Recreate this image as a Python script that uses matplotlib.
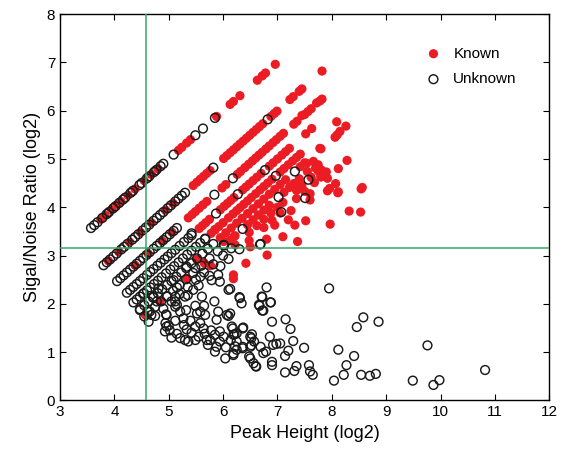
import numpy as np
import matplotlib.pyplot as plt

# thresholds (green lines)
peak_cut = 4.58
snr_cut = 3.16

# Known peaks (red) as (peak height, S/N), both log2
known_diag_a = [(3.75, 3.75), (3.83, 3.83), (3.95, 3.95), (4.06, 4.06), (4.12, 4.12), (4.25, 4.25),
                (4.38, 4.38), (4.55, 4.55), (4.68, 4.68), (4.80, 4.80), (5.18, 5.18), (5.24, 5.24),
                (5.33, 5.33), (5.40, 5.40), (5.88, 5.88), (6.13, 6.13), (6.19, 6.19), (6.31, 6.31),
                (6.63, 6.63), (6.72, 6.72), (6.78, 6.78), (6.96, 6.96)]
known_diag_b = [(3.89, 2.89), (4.08, 3.08), (4.28, 3.28), (4.48, 3.48), (4.68, 3.68), (4.94, 3.94),
                (5.08, 4.08), (5.45, 4.45), (5.52, 4.52), (5.58, 4.58), (5.64, 4.64), (5.70, 4.70),
                (5.76, 4.76), (6.01, 5.01), (6.07, 5.07), (6.13, 5.13), (6.19, 5.19), (6.25, 5.25),
                (6.31, 5.31), (6.37, 5.37), (6.43, 5.43), (6.49, 5.49), (6.55, 5.55), (6.61, 5.61),
                (6.67, 5.67), (6.73, 5.73), (6.88, 5.88), (6.94, 5.94), (6.99, 5.99), (7.23, 6.23),
                (7.29, 6.29), (7.40, 6.40), (7.45, 6.45), (7.82, 6.82)]
known_diag_c = [(4.38, 2.80), (4.62, 3.04), (4.88, 3.30), (5.06, 3.48), (5.36, 3.78), (5.43, 3.85),
                (5.49, 3.91), (5.56, 3.98), (5.63, 4.05), (5.70, 4.12), (5.98, 4.40), (6.05, 4.47),
                (6.26, 4.68), (6.32, 4.74), (6.40, 4.82), (6.47, 4.89), (6.54, 4.96), (6.60, 5.02),
                (6.66, 5.08), (6.72, 5.14), (6.79, 5.21), (6.85, 5.27), (6.92, 5.34), (6.98, 5.40),
                (7.05, 5.47), (7.11, 5.53), (7.30, 5.72), (7.36, 5.78), (7.50, 5.92), (7.56, 5.98),
                (7.62, 6.04), (7.78, 6.20), (7.82, 6.24)]
known_diag_d = [(5.56, 3.56), (5.62, 3.62), (5.68, 3.68), (5.75, 3.75), (5.95, 3.95), (6.02, 4.02),
                (6.08, 4.08), (6.14, 4.14), (6.20, 4.20), (6.36, 4.36), (6.42, 4.42), (6.48, 4.48),
                (6.55, 4.55), (6.62, 4.62), (6.70, 4.70), (6.85, 4.85), (6.92, 4.92), (7.00, 5.00),
                (7.08, 5.08), (7.15, 5.15), (7.22, 5.22), (7.52, 5.52), (7.63, 5.63)]
known_diag_e = [(5.78, 3.46), (5.85, 3.53), (5.92, 3.60), (6.00, 3.68), (6.10, 3.78), (6.18, 3.86),
                (6.25, 3.93), (6.31, 3.99), (6.38, 4.06), (6.45, 4.13), (6.52, 4.20), (6.60, 4.28),
                (6.68, 4.36), (6.75, 4.43), (6.82, 4.50), (6.90, 4.58), (7.05, 4.73), (7.12, 4.80),
                (7.20, 4.88), (7.28, 4.96), (7.35, 5.03), (7.42, 5.10)]
known_diag_f = [(5.95, 3.37), (6.05, 3.47), (6.15, 3.57), (6.25, 3.67), (6.35, 3.77), (6.45, 3.87),
                (6.55, 3.97), (6.65, 4.07), (6.75, 4.17), (6.85, 4.27), (6.95, 4.37), (7.05, 4.47),
                (7.15, 4.57), (7.42, 4.84), (7.50, 4.92)]
known_diag_g = [(6.12, 3.31), (6.22, 3.41), (6.45, 3.64), (6.55, 3.74), (6.65, 3.84), (6.75, 3.94),
                (6.85, 4.04), (7.12, 4.31), (7.22, 4.41), (7.30, 4.49), (7.40, 4.59),
                (7.55, 4.74)]
known_diag_h = [(6.22, 3.22), (6.48, 3.48), (6.62, 3.62), (6.75, 3.75), (6.88, 3.88),
                (7.00, 4.00), (7.10, 4.10), (7.35, 4.35), (7.45, 4.45), (7.62, 4.62),
                (7.75, 4.75)]
known_diag_i = [(6.48, 3.31), (6.75, 3.58), (6.90, 3.73), (7.05, 3.88), (7.35, 4.18), (7.50, 4.33),
                (7.68, 4.51), (7.80, 4.63), (6.95, 3.63), (7.25, 3.93), (7.60, 4.28), (7.92, 4.60)]
known_loose = [(8.09, 5.77), (8.26, 5.68), (8.15, 5.57), (8.10, 5.50), (8.06, 5.45), (7.80, 5.21),
               (8.28, 4.97), (8.12, 4.80), (8.07, 4.49), (8.11, 4.30), (7.92, 4.34), (7.96, 4.39),
               (8.56, 4.41), (8.54, 4.38), (8.32, 3.92), (8.53, 3.90), (7.97, 3.65), (7.52, 3.72),
               (7.37, 3.29), (7.32, 3.63), (7.20, 3.74), (7.10, 3.39), (6.80, 3.34), (6.01, 3.29),
               (5.85, 3.54), (7.60, 4.15), (7.45, 5.90), (7.72, 6.16), (7.54, 4.91), (7.66, 4.95),
               (7.75, 4.88), (7.81, 4.77), (7.87, 4.70), (7.80, 4.63), (7.70, 4.81), (7.90, 4.73),
               (6.20, 3.39), (6.50, 3.18), (7.78, 5.22), (8.12, 4.32),
               (6.81, 3.01), (6.42, 2.84), (6.19, 2.60), (6.19, 2.52), (5.77, 2.79), (5.65, 2.85),
               (5.52, 2.92), (5.33, 2.53), (4.84, 2.05), (4.57, 1.77)]

# Unknown peaks (open circles)
unknown_diag_a = [(3.57, 3.57), (3.63, 3.63), (3.69, 3.69), (3.78, 3.78), (3.86, 3.86), (3.90, 3.90),
                  (3.98, 3.98), (4.02, 4.02), (4.09, 4.09), (4.16, 4.16), (4.20, 4.20), (4.30, 4.30),
                  (4.34, 4.34), (4.46, 4.46), (4.50, 4.50), (4.60, 4.60), (4.64, 4.64), (4.73, 4.73),
                  (4.77, 4.77), (4.85, 4.85), (4.90, 4.90), (5.09, 5.09), (5.49, 5.49), (5.63, 5.63),
                  (5.85, 5.85)]
unknown_diag_b = [(3.80, 2.80), (3.86, 2.86), (3.92, 2.92), (3.98, 2.98), (4.04, 3.04), (4.13, 3.13),
                  (4.18, 3.18), (4.24, 3.24), (4.33, 3.33), (4.38, 3.38), (4.44, 3.44), (4.52, 3.52),
                  (4.58, 3.58), (4.64, 3.64), (4.72, 3.72), (4.78, 3.78), (4.84, 3.84), (4.90, 3.90),
                  (4.98, 3.98), (5.04, 4.04), (5.12, 4.12), (5.18, 4.18), (5.24, 4.24), (5.30, 4.30),
                  (5.82, 4.82), (6.82, 5.82)]
unknown_diag_c = [(4.05, 2.47), (4.11, 2.53), (4.17, 2.59), (4.23, 2.65), (4.29, 2.71), (4.35, 2.77),
                  (4.41, 2.83), (4.47, 2.89), (4.53, 2.95), (4.59, 3.01), (4.65, 3.07), (4.72, 3.14),
                  (4.78, 3.20), (4.84, 3.26), (4.90, 3.32), (4.96, 3.38), (5.02, 3.44), (5.09, 3.51),
                  (5.15, 3.57), (5.84, 4.26), (6.18, 4.60)]
unknown_diag_d = [(4.23, 2.23), (4.29, 2.29), (4.35, 2.35), (4.41, 2.41), (4.47, 2.47), (4.53, 2.53),
                  (4.60, 2.60), (4.66, 2.66), (4.72, 2.72), (4.79, 2.79), (4.85, 2.85), (4.92, 2.92),
                  (4.98, 2.98), (5.05, 3.05), (5.12, 3.12), (5.20, 3.20), (5.28, 3.28), (5.36, 3.36),
                  (5.42, 3.42), (5.87, 3.87), (6.27, 4.27), (6.77, 4.77)]
unknown_diag_e = [(4.35, 2.03), (4.41, 2.09), (4.47, 2.15), (4.53, 2.21), (4.60, 2.28), (4.66, 2.34),
                  (4.73, 2.41), (4.80, 2.48), (4.87, 2.55), (4.95, 2.63), (5.03, 2.71), (5.10, 2.78),
                  (5.18, 2.86), (5.26, 2.94), (5.34, 3.02), (5.42, 3.10), (5.50, 3.18), (5.58, 3.26),
                  (5.67, 3.35), (6.97, 4.65)]
unknown_diag_f = [(4.47, 1.89), (4.55, 1.97), (4.63, 2.05), (4.71, 2.13), (4.80, 2.22), (4.88, 2.30),
                  (4.97, 2.39), (5.05, 2.47), (5.14, 2.56), (5.23, 2.65), (5.32, 2.74), (5.42, 2.84),
                  (5.52, 2.94), (5.62, 3.04), (5.72, 3.14), (5.82, 3.24), (7.32, 4.74)]
unknown_diag_g = [(4.55, 1.74), (4.65, 1.84), (4.75, 1.94), (4.86, 2.05), (4.97, 2.16), (5.08, 2.27),
                  (5.20, 2.39), (5.32, 2.51), (5.45, 2.64), (5.60, 2.79), (5.75, 2.94), (5.90, 3.09),
                  (6.02, 3.21), (6.36, 3.55), (7.02, 4.21), (4.75, 1.75), (4.90, 1.90), (5.05, 2.05),
                  (5.20, 2.20), (5.35, 2.35), (5.50, 2.50), (5.65, 2.65), (5.82, 2.82), (6.00, 3.00),
                  (6.15, 3.15), (7.57, 4.57), (4.95, 1.78), (5.15, 1.98), (5.35, 2.18), (5.55, 2.38),
                  (5.75, 2.58), (5.95, 2.78), (6.10, 2.93), (6.30, 3.13), (7.07, 3.90), (7.51, 4.19),
                  (6.68, 3.23)]
unknown_cloud = [(6.31, 2.12), (6.34, 2.01), (6.71, 2.15), (6.80, 2.34), (6.67, 1.96), (6.74, 1.86),
                 (6.87, 2.03), (7.95, 2.32), (5.45, 2.29), (5.30, 2.15), (5.15, 2.34), (5.12, 2.15),
                 (5.09, 2.49), (4.97, 2.15), (4.81, 2.32), (4.72, 2.15), (4.78, 2.05), (5.61, 2.15),
                 (5.49, 1.96), (5.65, 1.96), (5.84, 2.05), (5.67, 1.77), (5.52, 1.80), (5.32, 1.87),
                 (5.12, 1.94), (5.12, 1.65), (4.96, 1.77), (4.61, 1.84), (4.47, 1.87), (4.96, 1.53),
                 (4.93, 1.43), (5.02, 1.45), (5.00, 1.55), (5.27, 1.70), (5.28, 1.56), (5.40, 1.65),
                 (5.33, 1.47), (5.30, 1.25), (5.36, 1.22), (5.49, 1.25), (5.64, 1.49), (5.66, 1.38),
                 (5.70, 1.25), (5.72, 1.15), (5.85, 1.01), (5.85, 1.36), (6.01, 1.32), (6.04, 0.87),
                 (6.07, 1.77), (5.94, 1.43), (5.94, 1.22), (6.16, 1.53), (6.19, 1.36), (6.14, 1.25),
                 (6.25, 1.39), (6.22, 1.12), (6.25, 1.05), (6.19, 0.94), (6.36, 1.49), (6.36, 1.08),
                 (6.50, 1.32), (6.50, 1.11), (6.57, 1.22), (6.48, 0.91), (6.56, 0.77), (6.60, 0.71),
                 (6.13, 2.31), (6.13, 1.80), (6.90, 1.63), (7.15, 1.68), (7.24, 1.48), (6.37, 1.51),
                 (6.18, 1.49), (6.21, 1.37), (6.53, 1.37), (6.52, 1.29), (6.86, 1.32), (7.05, 1.18),
                 (7.29, 1.23), (7.49, 1.09), (6.25, 1.22), (6.36, 1.11), (6.52, 1.14), (6.69, 1.11),
                 (6.74, 0.98), (6.79, 1.01), (6.92, 1.15), (6.98, 1.17), (7.20, 1.03), (7.14, 0.92),
                 (6.50, 0.87), (6.61, 0.70), (6.90, 0.80), (6.90, 0.73), (7.14, 0.58), (7.31, 0.61),
                 (7.35, 0.71), (7.58, 0.73), (7.60, 0.60), (7.65, 0.53), (6.72, 2.14), (6.66, 1.98),
                 (6.72, 1.86), (6.88, 2.03), (6.30, 2.14), (5.33, 2.77), (5.49, 2.74), (5.58, 2.56),
                 (5.79, 2.49), (5.91, 2.60), (5.94, 2.46), (6.10, 2.29), (6.69, 3.24), (4.63, 1.63),
                 (4.68, 1.77), (4.94, 1.60), (5.21, 1.29), (5.76, 1.25), (5.88, 1.11), (6.19, 0.97),
                 (5.58, 1.60), (5.49, 1.53), (6.10, 1.75), (5.88, 1.67), (5.91, 1.84), (5.58, 1.84),
                 (5.21, 1.84), (5.12, 2.05), (4.54, 2.22), (5.67, 3.34), (6.01, 3.22), (5.42, 3.46),
                 (5.05, 1.30), (5.15, 1.38), (5.42, 1.40), (5.55, 1.32), (5.78, 1.45), (6.05, 1.10)]
unknown_right = [(8.12, 1.05), (8.58, 1.72), (8.46, 1.52), (8.86, 1.63), (9.76, 1.14), (8.41, 0.92),
                 (8.27, 0.73), (8.22, 0.53), (8.04, 0.41), (8.54, 0.53), (8.70, 0.51), (8.81, 0.55),
                 (9.49, 0.41), (9.87, 0.32), (9.98, 0.42), (10.82, 0.63)]

known = np.array(known_diag_a + known_diag_b + known_diag_c + known_diag_d + known_diag_e
                 + known_diag_f + known_diag_g + known_diag_h + known_diag_i + known_loose)
unknown = np.array(unknown_diag_a + unknown_diag_b + unknown_diag_c + unknown_diag_d
                   + unknown_diag_e + unknown_diag_f + unknown_diag_g + unknown_cloud + unknown_right)

plt.rcParams['font.family'] = ['Liberation Sans', 'DejaVu Sans']

fig = plt.figure(figsize=(5.61, 4.54), dpi=100)
ax = fig.add_axes([0.107, 0.118, 0.872, 0.851])

ax.scatter(known[:, 0], known[:, 1], s=44, color='#ec1c24', edgecolors='none', label='Known', zorder=2)
ax.scatter(unknown[:, 0], unknown[:, 1], s=40, facecolors='none', edgecolors='#1a1a1a',
           linewidths=1.05, label='Unknown', zorder=3)

ax.axvline(peak_cut, color='#3aa66a', lw=1.1, zorder=4)
ax.axhline(snr_cut, color='#3aa66a', lw=1.1, zorder=4)

ax.set_xlim(3, 12)
ax.set_ylim(0, 8)
ax.set_xticks(np.arange(3, 13, 1))
ax.set_yticks(np.arange(0, 9, 1))
ax.tick_params(direction='in', top=True, right=True, length=4, width=0.8, labelsize=11)
for sp in ax.spines.values():
    sp.set_linewidth(1.0)

ax.set_xlabel('Peak Height (log2)', fontsize=13)
ax.set_ylabel('Sigal/Noise Ratio (log2)', fontsize=13)

ax.legend(loc='upper right', bbox_to_anchor=(0.965, 0.955), frameon=False, fontsize=11,
          handletextpad=0.3, labelspacing=0.75, borderpad=0.5)

fig.savefig('out.png', dpi=100)
